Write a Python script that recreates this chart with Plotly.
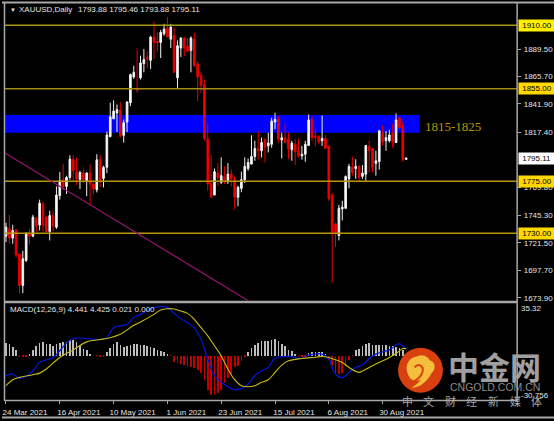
import plotly.graph_objects as go

W, H = 554, 421

# daily bars
opens = [1727.4, 1733.7, 1725.7, 1733, 1712, 1684.6, 1706.4, 1729.4, 1727.4, 1742.9,
         1737, 1755.3, 1743.8, 1731.4, 1745.2, 1735.2, 1762.5, 1776.3, 1770.5, 1778.3,
         1794, 1783, 1776.3, 1782, 1775.4, 1782, 1772.5, 1767.6, 1793.5, 1777.4,
         1787, 1813.6, 1829, 1834, 1836.6, 1814.7, 1826.2, 1842.9, 1865.3, 1855,
         1864.5, 1876.8, 1882, 1879.7, 1899.8, 1896, 1895.2, 1902.7, 1907.6, 1898,
         1901, 1864.5, 1890.3, 1899, 1891.8, 1888.3, 1898, 1876.8, 1866.5, 1858.7,
         1811.4, 1773.4, 1763, 1782, 1774, 1779, 1774.6, 1781.2, 1777.5, 1761,
         1768.8, 1776.3, 1786, 1789.8, 1796.4, 1803.3, 1801.3, 1811.4, 1805.6, 1807,
         1826.2, 1829, 1810.7, 1812.7, 1811.4, 1802.2, 1807, 1801.3, 1797, 1798.4,
         1806, 1828.5, 1814, 1814, 1810, 1812, 1805, 1763, 1738, 1728,
         1751, 1751.6, 1777, 1787, 1786, 1787.8, 1779.2, 1781, 1805, 1803.3,
         1790.4, 1792, 1817, 1810, 1810, 1817, 1808.5, 1830, 1822.8, 1793.88]
highs = [1738.9, 1745.8, 1737.2, 1733, 1712, 1714.7, 1731, 1733.7, 1745.8, 1743.8,
         1759, 1757.3, 1745.2, 1749.5, 1749.5, 1770.5, 1783, 1789.8, 1779.7, 1797.5,
         1797.5, 1795.5, 1784, 1786, 1783, 1789.8, 1774, 1798.4, 1798, 1788.4,
         1818, 1843, 1845, 1841.5, 1843.5, 1828.5, 1844.3, 1868.2, 1875, 1890.3,
         1883.7, 1889.5, 1887.5, 1901, 1913.3, 1903.8, 1906, 1911.3, 1917, 1911.3,
         1908.4, 1897, 1899.8, 1899.8, 1899, 1900.4, 1903.3, 1878.8, 1869.3, 1863,
         1825, 1797.6, 1786, 1790.7, 1795.6, 1787.8, 1790.7, 1785, 1779.2, 1771,
         1783.2, 1795.6, 1794.7, 1814.8, 1810, 1818.6, 1812.8, 1811.4, 1817, 1830,
         1834.3, 1831.4, 1817, 1825, 1817, 1810, 1811.4, 1812, 1805.6, 1810,
         1832.8, 1831.4, 1820, 1814.7, 1832, 1815, 1806, 1764.8, 1739, 1754.5,
         1758, 1780, 1790, 1796.4, 1794, 1789, 1789, 1806, 1810, 1803.3,
         1801.3, 1819.5, 1823.4, 1818.5, 1819.5, 1825, 1833.7, 1831, 1827, 1795.46]
lows = [1722.2, 1720.8, 1720.8, 1709, 1677.7, 1678, 1705, 1720, 1726.5, 1731,
        1732.3, 1731.4, 1731, 1723.7, 1731.4, 1733.7, 1759, 1766.8, 1764, 1776.3,
        1775.4, 1771.7, 1768.2, 1774, 1762, 1755.3, 1764, 1765.3, 1770, 1769.6,
        1782, 1813, 1829, 1817.6, 1812.7, 1808.4, 1817.6, 1840, 1863.6, 1851.5,
        1863, 1869.3, 1873, 1872.2, 1880.8, 1887.5, 1881.7, 1901, 1899.8, 1890.3,
        1869, 1855.8, 1882.6, 1883, 1887, 1869.3, 1874.5, 1844.3, 1851.5, 1810,
        1766.8, 1761, 1763, 1771, 1772.6, 1772.6, 1772.6, 1770.6, 1750.4, 1753.3,
        1765.4, 1773.4, 1784, 1789.8, 1792.7, 1794, 1795.6, 1791.3, 1799.9, 1804,
        1820, 1808.4, 1794.7, 1808, 1794, 1792.7, 1789, 1795.6, 1793.6, 1791.8,
        1805.5, 1810, 1805.5, 1807, 1805.5, 1803, 1758, 1687, 1718, 1723.7,
        1741, 1751, 1768.8, 1779.8, 1777, 1775.4, 1777, 1775.4, 1782.6, 1782.6,
        1779.8, 1785, 1806, 1801.3, 1808.5, 1804, 1808, 1820, 1792, 1793.88]
closes = [1735.2, 1725.7, 1732.3, 1711, 1684.6, 1707.9, 1729.4, 1727.4, 1743.8, 1736,
          1756, 1737, 1731.4, 1745.2, 1736, 1763, 1775.4, 1770.5, 1778.3, 1794,
          1784, 1776.8, 1782.6, 1776.3, 1782, 1772.5, 1768.2, 1793.5, 1775.4, 1787,
          1815, 1830.8, 1835.7, 1837, 1814, 1825.7, 1843.5, 1867.3, 1869.3, 1854,
          1877.4, 1880.3, 1881, 1899.8, 1895.2, 1895, 1903.8, 1906.7, 1899.8, 1908.4,
          1869.3, 1892.3, 1899, 1890.3, 1887.5, 1899, 1875, 1865.3, 1858, 1812,
          1772.6, 1761, 1783.2, 1778.3, 1779.8, 1774.6, 1781.2, 1776.9, 1761, 1769.7,
          1776.3, 1787.8, 1791.3, 1796.4, 1803.3, 1801.3, 1808.5, 1804.2, 1808, 1827,
          1828.5, 1811.3, 1812.7, 1808.4, 1802.8, 1808, 1800.5, 1797, 1798.4, 1807,
          1828, 1812.7, 1813, 1809, 1812, 1803.3, 1759.6, 1730.3, 1729.5, 1751.6,
          1752.5, 1779, 1787.8, 1782.6, 1787.8, 1778.3, 1782, 1806, 1801.3, 1787,
          1792.7, 1818.6, 1809, 1812.8, 1815, 1808.5, 1828, 1821.4, 1793.5, 1795.11]
bar_index = list(range(len(closes)))

# MACD histogram
hist = [8.6, 8.2, 5.9, 3.6, -0.3, -0.4, -0.3, 1.4, 4.1, 6.8,
        8.6, 9.3, 8.2, 7.7, 6.8, 8.2, 8.9, 9.1, 9.5, 10.9,
        10.7, 9.1, 6.8, 4.5, 3.6, 1.4, -0.2, -0.2, -0.3, -0.3,
        2.3, 5.4, 8.2, 9.1, 7.3, 5.9, 6.4, 7.3, 7.9, 7.7,
        7.5, 7.3, 6.8, 5.9, 5.4, 4.1, 3.4, 2.7, 0.7, -0.2,
        -4.5, -5, -5.9, -6.1, -7.3, -7.7, -8.6, -10, -11.8, -16.8,
        -23.2, -26.8, -27, -25.4, -23.2, -18.6, -15.2, -12.9, -7.7, -6.8,
        -3.9, -0.5, 2.3, 5.2, 7.5, 8.6, 9.8, 9.8, 9.8, 10.9,
        11.4, 10.2, 8.2, 6.4, 3.6, 3, 1.4, -0.2, -0.8, -0.4,
        1.8, 2.3, 2.3, 2.3, 2.3, 0.9, -3.2, -6.8, -12.3, -12.9,
        -11.8, -7.3, -3.2, -0.2, 3.6, 4.5, 6.8, 8.2, 8.6, 7.3,
        7.3, 7.3, 7.3, 7.3, 6.8, 6.4, 5.9, 5.2, 3.6, 1]
hist_colors = ["#BDBDBD" if v > 0 else "#C00000" for v in hist]

# MACD line and signal line, read at the bars where they bend
macd_bars = [0, 2, 4, 6, 8, 10, 12, 14, 16, 18, 20, 24, 28, 30, 32, 36, 38, 40, 44, 48,
             50, 52, 54, 56, 58, 60, 62, 64, 68, 70, 72, 74, 76, 78, 80, 84, 88, 90, 94,
             96, 97, 98, 100, 102, 104, 106, 108, 110, 112, 114, 116, 117, 118, 119]
macd_vals = [-14.1, -12.9, -15.9, -14.5, -10.7, -5, -3.2, -1.6, 3, 8.2, 11.4, 11.4, 10.7, 12,
             18.8, 21.1, 25.7, 27.9, 32.5, 32.7, 28.6, 25, 22.2, 18.8, 10.9, -2.7, -14.1,
             -18.6, -23.6, -22.7, -19.7, -14.1, -10.7, -8.4, -2.3, -0.9, -2.3, 0, 0.7,
             -2.7, -8.4, -12.9, -15.4, -11.8, -8.4, -6.8, -2.3, 0.7, 2.3, 3.6, 6.8, 7.9, 6.4, 4.441]
signal_bars = [0, 2, 4, 8, 10, 12, 16, 20, 24, 28, 30, 34, 38, 40, 44, 46, 48, 50, 52, 54,
               56, 58, 60, 62, 64, 66, 68, 70, 72, 74, 76, 78, 80, 82, 84, 88, 92, 94, 96,
               98, 100, 102, 104, 105, 106, 108, 110, 112, 114, 116, 118, 119]
signal_vals = [-20.9, -16.8, -15.2, -13.4, -12.3, -9.5, -1.6, 3.6, 9.1, 10.7, 11.4, 14.3, 20.4,
               22.7, 27.9, 30.9, 31.8, 31.6, 30.2, 28.6, 24.5, 18.8, 13.2, 6.4, -0.5, -9.5,
               -16.8, -20.9, -21.6, -20.9, -18.6, -16.8, -11.8, -6.8, -3.9, -2.3, -1.4, -0.9,
               -1.6, -3.2, -5, -8.4, -11.1, -11.8, -10.9, -8.4, -6.1, -3.9, -1.6, 1.1, 4.5, 4.425]

date_ticks = [0, 16, 32, 48, 64, 80, 96, 112]
date_labels = ["24 Mar 2021", "16 Apr 2021", "10 May 2021", "1 Jun 2021",
               "23 Jun 2021", "15 Jul 2021", "6 Aug 2021", "30 Aug 2021"]
price_ticks = [1889.5, 1865.7, 1841.9, 1817.4, 1769.8, 1745.3, 1721.5, 1697.7, 1673.9]
price_labels = ["1889.50", "1865.70", "1841.90", "1817.40", "1769.80",
                "1745.30", "1721.50", "1697.70", "1673.90"]
level_prices = [1910, 1855, 1775, 1730]
level_labels = ["1910.00", "1855.00", "1775.00", "1730.00"]
level_colors = ["#A89A10", "#A08C10", "#B8960B", "#B8960B"]
zone_low, zone_high = 1817, 1832.3
last_price = 1795.11
slogan = ["中", "文", "财", "经", "新", "媒", "体"]


def px_x(x):
    return x / W


def px_y(y):
    return 1 - y / H


GREY = "#A8A8A8"
TEXT = "#E4E4E4"
FONT = "Liberation Sans"

fig = go.Figure()

fig.add_trace(go.Candlestick(
    x=bar_index, open=opens, high=highs, low=lows, close=closes,
    increasing=dict(line=dict(color="#F0F0F0", width=1), fillcolor="#FFFFFF"),
    decreasing=dict(line=dict(color="#E80000", width=1), fillcolor="#F00000"),
    whiskerwidth=0, xaxis="x", yaxis="y", showlegend=False
))
fig.add_trace(go.Bar(
    x=bar_index, y=hist, width=0.2, marker_color=hist_colors, marker_line_width=0,
    xaxis="x", yaxis="y2", showlegend=False
))
fig.add_trace(go.Scatter(
    x=macd_bars, y=macd_vals, mode="lines", line=dict(color="#0018E0", width=1.2, shape="spline"),
    xaxis="x", yaxis="y2", showlegend=False
))
fig.add_trace(go.Scatter(
    x=signal_bars, y=signal_vals, mode="lines", line=dict(color="#C8BC10", width=1.1, shape="spline"),
    xaxis="x", yaxis="y2", showlegend=False
))

# blue zone sits behind the candles
fig.add_shape(type="rect", xref="x", yref="y", x0=-1, x1=123, y0=zone_low, y1=zone_high,
              fillcolor="#0000FF", line_width=0, layer="below")
for price, color in zip(level_prices, level_colors):
    fig.add_shape(type="line", xref="paper", yref="y", x0=px_x(3), x1=px_x(517), y0=price, y1=price,
                  line=dict(color=color, width=1.5))
# falling trend line
fig.add_shape(type="line", xref="x", yref="y", x0=-0.2, x1=71.9, y0=1799.3, y1=1671.7,
              line=dict(color="#96146E", width=1.2))

# window frame
frame = [(0, 2.5, 554, 2.5, 2), (2.5, 3, 2.5, 403, 1.5), (517, 3, 517, 403, 1.5),
         (3, 303.5, 517, 303.5, 2.5), (3, 402.5, 517, 402.5, 1.5), (0, 419.5, 554, 419.5, 2)]
for x0, y0, x1, y1, lw in frame:
    fig.add_shape(type="line", xref="paper", yref="paper",
                  x0=px_x(x0), x1=px_x(x1), y0=px_y(y0), y1=px_y(y1),
                  line=dict(color=GREY, width=lw))


def pts(points):
    return " ".join(f"{px_x(a):.4f},{px_y(b):.4f}" for a, b in points)


# watermark logo: red disc, yellow cloud, red hook inside it
fig.add_shape(type="circle", xref="paper", yref="paper", x0=px_x(397.5), x1=px_x(442.5),
              y0=px_y(394.5), y1=px_y(349.5), fillcolor="#D9400F", line_width=0)
cloud = ("M " + pts([(407, 375)])
         + " C " + pts([(404, 366), (409, 359), (417, 358)])
         + " C " + pts([(423, 355), (429, 360), (429, 362)])
         + " C " + pts([(435, 363), (436, 371), (431, 375)])
         + " C " + pts([(427, 383), (420, 389), (411, 390)])
         + " C " + pts([(416, 386), (419, 384), (421, 381)])
         + " C " + pts([(414, 385), (409, 381), (407, 375)]) + " Z")
fig.add_shape(type="path", xref="paper", yref="paper", path=cloud, fillcolor="#F5BE3C", line_width=0)
hook = ("M " + pts([(414, 369)])
        + " C " + pts([(419, 364), (425, 369), (421, 376)])
        + " C " + pts([(419, 380), (416, 382), (413, 383)]))
fig.add_shape(type="path", xref="paper", yref="paper", path=hook,
              line=dict(color="#D9400F", width=2))


def label(x, y, text, size=8, color=TEXT, anchor="left", family=FONT, bg=None, pad=0):
    fig.add_annotation(xref="paper", yref="paper", x=px_x(x), y=px_y(y), text=text, showarrow=False,
                       xanchor=anchor, yanchor="middle", align="left", bgcolor=bg, borderpad=pad,
                       font=dict(family=family, size=size, color=color))


label(7, 10, "▼", size=6)
label(16, 10, "XAUUSD,Daily", size=8)
label(75, 10, "1793.88 1795.46 1793.88 1795.11", size=8)
label(424, 127, "1815-1825", size=13, color="#B8960B", family="Liberation Serif")
label(7, 311, "MACD(12,26,9) 4.441 4.425 0.021 0.000", size=8)
label(520, 310, "35.32", size=8)
label(520, 397, "-30.756", size=8)
for price, text in zip(level_prices, level_labels):
    y = 25.5 + (1910 - price) * 1.16
    bg = "#FFEE00" if price == 1910 else "#FFD800"
    label(518, y, "&nbsp;" + text + "&nbsp;", size=8, color="#000000", bg=bg, pad=1)
label(518, 25.5 + (1910 - last_price) * 1.16, "&nbsp;1795.11&nbsp;", size=8, color="#000000", bg="#FFFFFF", pad=1)

label(447, 367, "<b>中金网</b>", size=31, color="#A0A0A0", family="Noto Sans CJK SC")
label(449, 389, "CNGOLD.COM.CN", size=10.5, color="#8C8C8C")
for n, ch in enumerate(slogan):
    label(400 + n * 21.7, 403, ch, size=11, color="#A8A8A8", family="Noto Sans CJK SC")

fig.update_layout(
    width=W, height=H,
    margin=dict(l=0, r=0, t=0, b=0),
    paper_bgcolor="#000000",
    plot_bgcolor="#000000",
    bargap=0,
    showlegend=False,
    xaxis=dict(domain=[px_x(3), px_x(517)], range=[-0.3, 152], anchor="y2",
               rangeslider=dict(visible=False), showgrid=False, zeroline=False,
               tickmode="array", tickvals=date_ticks, ticktext=date_labels, ticks="outside",
               ticklen=3, tickcolor=GREY, ticklabelshift=19, ticklabelstandoff=1,
               tickfont=dict(family=FONT, size=8, color=TEXT)),
    yaxis=dict(domain=[px_y(302), px_y(4)], range=[1671.6, 1928.5], side="right", anchor="x",
               showgrid=False, zeroline=False, tickmode="array", tickvals=price_ticks,
               ticktext=price_labels, ticks="outside", ticklen=3, tickcolor=GREY,
               ticklabelstandoff=1, tickfont=dict(family=FONT, size=8, color=TEXT)),
    yaxis2=dict(domain=[px_y(402), px_y(305)], range=[-30.756, 35.32], anchor="x",
                showgrid=False, zeroline=False, showticklabels=False),
)

fig.write_html("out.html", config={"displayModeBar": False},
               post_script="document.body.style.margin='0';")
